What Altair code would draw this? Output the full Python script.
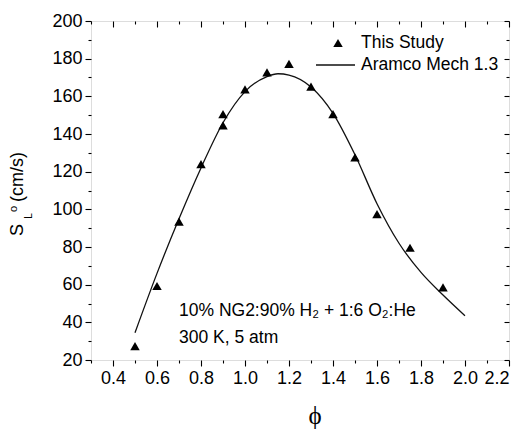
import altair as alt
import pandas as pd

# Experimental data ("This Study")
phi_exp = [0.5, 0.6, 0.7, 0.8, 0.9, 0.9, 1.0, 1.1, 1.2, 1.3, 1.4, 1.5, 1.6, 1.75, 1.9]
sl_exp = [27.4, 59.3, 93.5, 124.0, 150.6, 144.6, 163.7, 172.7, 177.2, 165.1, 150.6, 127.6, 97.5, 79.6, 58.6]

# Model curve ("Aramco Mech 1.3")
phi_model = [0.5, 0.6, 0.7, 0.8, 0.9, 1.0, 1.1, 1.15, 1.2, 1.3, 1.4, 1.5, 1.6, 1.7, 1.8, 1.9, 2.0]
sl_model = [34.5, 66.0, 95.0, 122.0, 146.0, 162.5, 170.5, 172.0, 171.3, 165.0, 151.0, 129.0, 103.0, 82.0, 66.5, 54.5, 43.5]

# Tick values
x_major = [0.4, 0.6, 0.8, 1.0, 1.2, 1.4, 1.6, 1.8, 2.0, 2.2]
x_minor = [0.3, 0.5, 0.7, 0.9, 1.1, 1.3, 1.5, 1.7, 1.9, 2.1]
y_major = [20, 40, 60, 80, 100, 120, 140, 160, 180, 200]
y_minor = [30, 50, 70, 90, 110, 130, 150, 170, 190]

X_DOM = [0.3, 2.2]
Y_DOM = [20, 200]
W, H = 418, 339
FONT = "Liberation Sans"

exp_df = pd.DataFrame({"phi": phi_exp, "sl": sl_exp})
model_df = pd.DataFrame({"phi": phi_model, "sl": sl_model})


def ax(orient, values, size, labels=False, offset=0, fmt=None):
    kw = dict(orient=orient, values=values, tickSize=size, tickColor="black",
              tickWidth=1.1, domain=False, grid=False, title=None, labels=labels,
              offset=offset)
    if labels:
        kw.update(labelFont=FONT, labelFontSize=18, labelColor="black", labelPadding=3)
    if fmt:
        kw["format"] = fmt
    return alt.Axis(**kw)


def enc(xaxis, yaxis):
    return dict(
        x=alt.X("phi:Q", scale=alt.Scale(domain=X_DOM, nice=False, zero=False), axis=xaxis),
        y=alt.Y("sl:Q", scale=alt.Scale(domain=Y_DOM, nice=False, zero=False), axis=yaxis),
    )


points = alt.Chart(exp_df).mark_point(shape="triangle-up", filled=True, color="black",
                                      size=90, opacity=1).encode(
    **enc(ax("bottom", x_major, 6, labels=True, fmt=".1f"), ax("left", y_major, 6, labels=True))
)

line = alt.Chart(model_df).mark_line(color="#111111", strokeWidth=1.3,
                                     interpolate="monotone").encode(
    **enc(ax("bottom", x_minor, 3), ax("left", y_minor, 3))
)

top_major = alt.Chart(exp_df).mark_point(opacity=0).encode(
    **enc(ax("top", x_major, 6, offset=-6), ax("right", y_major, 5, offset=-5))
)
top_minor = alt.Chart(exp_df).mark_point(opacity=0).encode(
    **enc(ax("top", x_minor, 3, offset=-3), ax("right", y_minor, 3, offset=-3))
)

def txt(s, x, y, size=17.5, angle=0, align="left", font=FONT, baseline="middle"):
    return alt.Chart(exp_df.head(1)).mark_text(
        text=s, font=font, fontSize=size, color="black", align=align,
        baseline=baseline, angle=angle
    ).encode(x=alt.value(x), y=alt.value(y))

# Legend
leg_tri = alt.Chart(exp_df.head(1)).mark_point(shape="triangle-up", filled=True,
                                               color="black", size=90, opacity=1).encode(
    x=alt.value(247), y=alt.value(22))
leg_line = alt.Chart(exp_df.head(1)).mark_rule(color="#111111", strokeWidth=1.3).encode(
    x=alt.value(225), x2=alt.value(264), y=alt.value(44))
leg_t1 = txt("This Study", 270, 22)
leg_t2 = txt("Aramco Mech 1.3", 270, 44)

# Annotation
ann1 = txt("10% NG2:90% H\u2082 + 1:6 O\u2082:He", 88, 290)
ann2 = txt("300 K, 5 atm", 88, 317)

# Axis titles
x_title = txt("\u03d5", 224, 395, size=25, align="center", font="Liberation Serif")
y_S = txt("S", -73, 209, size=18, angle=270, align="center")
y_L = txt("L", -62, 195, size=10, angle=270, align="center")
y_o = txt("o", -72, 188, size=11, angle=270, align="center", baseline="bottom")
y_units = txt("(cm/s)", -73, 156, size=18, angle=270, align="center")

chart = alt.layer(
    top_major, top_minor, line, points,
    leg_tri, leg_line, leg_t1, leg_t2, ann1, ann2,
    x_title, y_S, y_L, y_o, y_units,
).resolve_scale(x="independent", y="independent").properties(
    width=W, height=H,
    autosize=alt.AutoSizeParams(type="none"),
    padding={"left": 83, "top": 13, "right": 6, "bottom": 72},
).configure_view(stroke="black", strokeWidth=1.3).configure(background="white")

chart.save("out.html", embed_options={"renderer": "svg", "actions": False})
